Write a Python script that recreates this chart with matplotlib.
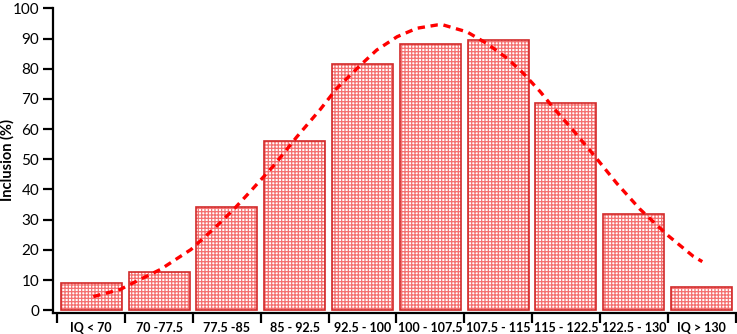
import matplotlib
matplotlib.use('Agg')
import matplotlib.pyplot as plt
import numpy as np

plt.rcParams['font.family'] = ['Lato', 'DejaVu Sans']
plt.rcParams['hatch.linewidth'] = 0.9

# IQ groups and inclusion share
categories = ['IQ < 70', '70 -77.5', '77.5 -85', '85 - 92.5', '92.5 - 100',
              '100 - 107.5', '107.5 - 115', '115 - 122.5', '122.5 - 130', 'IQ > 130']
inclusion = [9.0, 12.8, 34.3, 56.0, 81.4, 88.3, 89.4, 68.6, 32.0, 7.8]

# dashed fit curve (x in category units)
curve_x = [0.03, 0.43, 0.55, 1.02, 1.47, 1.85, 2.10, 2.34, 2.71, 3.03, 3.38, 3.62,
           3.97, 4.21, 4.51, 4.80, 5.10, 5.19, 5.54, 5.83, 6.13, 6.37, 6.62, 6.82,
           7.06, 7.41, 7.75, 8.09, 8.49, 8.88, 9.01]
curve_y = [4.5, 6.9, 8.3, 13.5, 20.1, 27.9, 33.4, 39.2, 48.4, 57.4, 66.6, 73.5,
           81.2, 86.2, 90.6, 93.4, 94.5, 94.5, 92.2, 88.4, 83.5, 78.5, 72.4, 66.9,
           60.8, 51.4, 42.0, 33.5, 25.0, 17.8, 16.1]

fig = plt.figure(figsize=(7.37, 3.34), dpi=100)
ax = fig.add_axes([0.072, 0.064, 0.926, 0.911])

x = np.arange(len(categories))
# hatch layer then outline layer
ax.bar(x, inclusion, width=0.9, color='white', edgecolor='#f47070',
       hatch='+++++', linewidth=0, zorder=2)
ax.bar(x, inclusion, width=0.9, fill=False, edgecolor='#d22a2a',
       linewidth=1.2, zorder=3)

ax.plot(curve_x, curve_y, color='#ff0000', lw=2.4, dashes=(2.2, 1.7),
        dash_capstyle='butt', zorder=4)

ax.set_xlim(-0.563, 9.5)
ax.set_ylim(-0.8, 100)

for s in ['top', 'right']:
    ax.spines[s].set_visible(False)
for s in ['left', 'bottom']:
    ax.spines[s].set_linewidth(1.6)
    ax.spines[s].set_color('black')

ax.set_yticks(np.arange(0, 101, 10))
ax.tick_params(axis='y', length=7, width=1.6, labelsize=11, pad=3)

ax.set_xticks(np.arange(-0.5, 10, 1))
ax.set_xticklabels([])
ax.set_xticks(x, minor=True)
ax.set_xticklabels(categories, minor=True, fontweight='bold', fontsize=9)
ax.tick_params(axis='x', which='major', length=7, width=1.6, direction='out')
ax.tick_params(axis='x', which='minor', length=0, pad=7)

ax.set_ylabel('Inclusion (%)', fontweight='bold', fontsize=10.5)
ax.yaxis.set_label_coords(-0.056, 0.5)

fig.savefig('out.png', dpi=100)
